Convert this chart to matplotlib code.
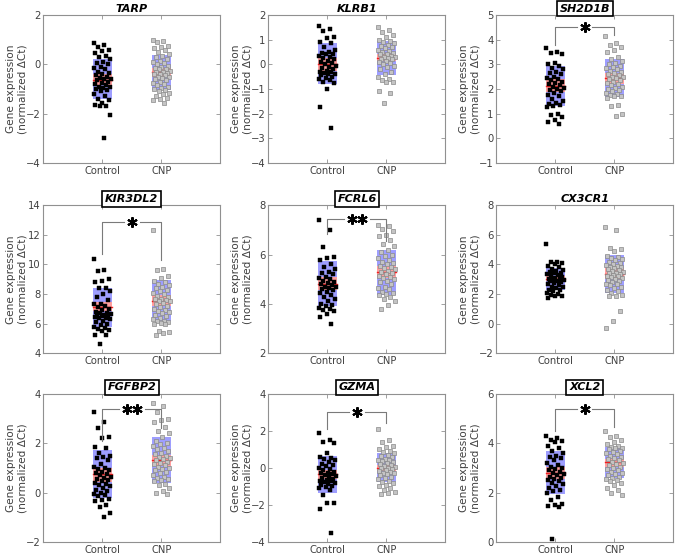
import numpy as np
import matplotlib.pyplot as plt
from matplotlib.patches import Rectangle

genes = ['TARP', 'KLRB1', 'SH2D1B', 'KIR3DL2', 'FCRL6', 'CX3CR1', 'FGFBP2', 'GZMA', 'XCL2']
groups = ['Control', 'CNP']

# individual samples (normalized dCt)
tarp_ctrl = [0.85, 0.8, 0.7, 0.6, 0.55, 0.45, 0.35, 0.3, 0.2, 0.1, 0.05, 0.0, -0.1, -0.15, -0.2, -0.3, -0.35,
             -0.4, -0.45, -0.5, -0.55, -0.6, -0.6, -0.65, -0.7, -0.75, -0.8, -0.85, -0.9, -0.9, -0.95, -1.0,
             -1.05, -1.1, -1.2, -1.3, -1.4, -1.45, -1.55, -1.65, -1.7, -1.7, -2.05, -3.0]
tarp_cnp = [1.0, 0.95, 0.9, 0.75, 0.7, 0.65, 0.6, 0.5, 0.4, 0.35, 0.3, 0.2, 0.15, 0.1, 0.05, 0.0, -0.05, -0.1,
            -0.15, -0.2, -0.2, -0.25, -0.3, -0.3, -0.35, -0.4, -0.4, -0.45, -0.5, -0.5, -0.55, -0.6, -0.65,
            -0.7, -0.75, -0.8, -0.85, -0.9, -0.95, -1.0, -1.05, -1.1, -1.15, -1.2, -1.3, -1.35, -1.4, -1.45, -1.55]
klrb1_ctrl = [1.55, 1.45, 1.35, 1.1, 1.05, 0.9, 0.85, 0.7, 0.6, 0.5, 0.45, 0.4, 0.4, 0.35, 0.3, 0.25, 0.2, 0.15,
              0.1, 0.05, 0.0, -0.05, -0.1, -0.15, -0.2, -0.25, -0.3, -0.3, -0.35, -0.4, -0.4, -0.45, -0.5,
              -0.55, -0.6, -0.65, -0.7, -0.75, -1.0, -1.75, -2.6]
klrb1_cnp = [1.5, 1.4, 1.3, 1.2, 1.1, 1.0, 0.95, 0.9, 0.85, 0.8, 0.75, 0.7, 0.65, 0.6, 0.55, 0.5, 0.45, 0.4, 0.4,
             0.35, 0.3, 0.3, 0.25, 0.2, 0.2, 0.15, 0.1, 0.05, 0.0, -0.05, -0.1, -0.2, -0.3, -0.4, -0.5, -0.6,
             -0.65, -0.7, -0.7, -1.1, -1.15, -1.55]
sh2d1b_ctrl = [3.65, 3.5, 3.45, 3.4, 3.05, 3.0, 2.95, 2.85, 2.8, 2.7, 2.65, 2.6, 2.5, 2.45, 2.4, 2.35, 2.3, 2.25,
               2.2, 2.15, 2.1, 2.05, 2.0, 1.95, 1.9, 1.85, 1.75, 1.7, 1.6, 1.5, 1.45, 1.4, 1.35, 1.3, 1.25, 1.0,
               0.95, 0.85, 0.75, 0.65, 0.6]
sh2d1b_cnp = [4.15, 3.85, 3.8, 3.7, 3.6, 3.5, 3.3, 3.2, 3.15, 3.05, 3.0, 2.95, 2.9, 2.85, 2.8, 2.75, 2.7, 2.65,
              2.6, 2.55, 2.5, 2.5, 2.45, 2.4, 2.35, 2.3, 2.25, 2.2, 2.15, 2.1, 2.05, 2.0, 1.95, 1.9, 1.85, 1.8,
              1.75, 1.7, 1.7, 1.65, 1.35, 1.3, 1.0, 0.9]
kir3dl2_ctrl = [10.35, 9.6, 9.55, 9.0, 8.9, 8.8, 8.4, 8.4, 8.2, 8.0, 7.8, 7.6, 7.35, 7.3, 7.2, 7.1, 7.0, 6.9, 6.8,
                6.75, 6.7, 6.65, 6.6, 6.6, 6.55, 6.5, 6.45, 6.4, 6.35, 6.3, 6.2, 6.1, 6.0, 5.9, 5.8, 5.7, 5.65,
                5.6, 5.5, 5.25, 5.25, 4.6]
kir3dl2_cnp = [12.3, 9.7, 9.65, 9.2, 9.1, 8.85, 8.8, 8.7, 8.6, 8.5, 8.4, 8.3, 8.2, 8.1, 8.0, 7.9, 7.8, 7.7, 7.65,
               7.6, 7.5, 7.5, 7.4, 7.3, 7.2, 7.1, 7.0, 6.9, 6.85, 6.8, 6.7, 6.6, 6.5, 6.4, 6.3, 6.2, 6.15, 6.1,
               6.05, 6.0, 5.95, 5.5, 5.45, 5.35, 5.2]
fcrl6_ctrl = [7.4, 7.0, 6.3, 5.9, 5.85, 5.8, 5.6, 5.5, 5.4, 5.3, 5.25, 5.2, 5.1, 5.05, 5.0, 4.95, 4.9, 4.85, 4.8,
              4.75, 4.7, 4.7, 4.65, 4.6, 4.55, 4.5, 4.45, 4.35, 4.3, 4.2, 4.1, 4.0, 3.95, 3.9, 3.85, 3.8, 3.75,
              3.7, 3.6, 3.45, 3.2]
fcrl6_cnp = [7.2, 7.15, 7.05, 6.95, 6.8, 6.75, 6.6, 6.45, 6.35, 6.2, 6.1, 6.0, 5.95, 5.85, 5.8, 5.7, 5.65, 5.6,
             5.55, 5.5, 5.45, 5.4, 5.35, 5.3, 5.25, 5.2, 5.15, 5.1, 5.05, 5.0, 4.95, 4.9, 4.8, 4.7, 4.65, 4.6,
             4.5, 4.45, 4.4, 4.35, 4.3, 4.2, 4.1, 3.95, 3.8]
cx3cr1_ctrl = [5.4, 4.2, 4.15, 4.1, 4.0, 3.9, 3.8, 3.7, 3.6, 3.55, 3.5, 3.45, 3.4, 3.35, 3.3, 3.2, 3.15, 3.1, 3.05,
               3.0, 3.0, 2.95, 2.9, 2.85, 2.8, 2.75, 2.7, 2.6, 2.5, 2.45, 2.4, 2.3, 2.25, 2.2, 2.1, 2.0, 1.95,
               1.9, 1.85, 1.75]
cx3cr1_cnp = [6.55, 6.3, 5.1, 5.05, 4.9, 4.6, 4.5, 4.45, 4.4, 4.3, 4.2, 4.1, 4.0, 3.95, 3.9, 3.85, 3.8, 3.75, 3.7,
              3.6, 3.55, 3.5, 3.45, 3.4, 3.35, 3.3, 3.25, 3.2, 3.15, 3.1, 3.0, 2.95, 2.9, 2.8, 2.7, 2.65, 2.6,
              2.5, 2.4, 2.3, 2.2, 2.1, 1.95, 1.9, 1.9, 0.85, 0.2, -0.3]
fgfbp2_ctrl = [3.25, 2.85, 2.6, 2.25, 2.2, 1.85, 1.8, 1.6, 1.5, 1.45, 1.4, 1.3, 1.15, 1.05, 1.0, 0.95, 0.9, 0.85,
               0.8, 0.75, 0.7, 0.65, 0.6, 0.55, 0.5, 0.45, 0.4, 0.35, 0.3, 0.25, 0.2, 0.1, 0.05, 0.0, -0.05,
               -0.1, -0.15, -0.25, -0.3, -0.35, -0.5, -0.6, -0.85, -1.0]
fgfbp2_cnp = [3.65, 3.5, 3.25, 3.0, 2.95, 2.85, 2.65, 2.5, 2.4, 2.25, 2.1, 2.0, 1.95, 1.9, 1.8, 1.75, 1.7, 1.6,
              1.55, 1.5, 1.45, 1.4, 1.35, 1.3, 1.25, 1.2, 1.15, 1.1, 1.05, 1.0, 0.95, 0.9, 0.85, 0.8, 0.7, 0.65,
              0.6, 0.55, 0.5, 0.45, 0.35, 0.3, 0.2, 0.05, 0.0, -0.05]
gzma_ctrl = [1.9, 1.5, 1.4, 1.35, 0.8, 0.6, 0.55, 0.5, 0.4, 0.3, 0.2, 0.15, 0.1, 0.0, -0.05, -0.1, -0.2, -0.25,
             -0.3, -0.35, -0.4, -0.45, -0.5, -0.55, -0.6, -0.65, -0.7, -0.7, -0.75, -0.8, -0.85, -0.9, -1.0,
             -1.05, -1.1, -1.2, -1.45, -1.9, -1.9, -2.25, -3.5]
gzma_cnp = [2.1, 1.5, 1.4, 1.2, 1.15, 1.0, 0.9, 0.85, 0.8, 0.7, 0.65, 0.6, 0.5, 0.45, 0.4, 0.35, 0.3, 0.25, 0.2,
            0.15, 0.1, 0.05, 0.0, 0.0, -0.05, -0.1, -0.15, -0.2, -0.25, -0.3, -0.35, -0.4, -0.5, -0.55, -0.6,
            -0.7, -0.75, -0.8, -0.9, -1.0, -1.1, -1.2, -1.3, -1.35, -1.4]
xcl2_ctrl = [4.3, 4.2, 4.15, 4.1, 4.05, 3.9, 3.8, 3.7, 3.6, 3.5, 3.45, 3.4, 3.3, 3.2, 3.1, 3.05, 3.0, 2.95, 2.9,
             2.85, 2.8, 2.75, 2.7, 2.65, 2.6, 2.55, 2.5, 2.45, 2.4, 2.35, 2.25, 2.2, 2.1, 2.05, 2.0, 1.8, 1.7,
             1.55, 1.5, 1.45, 1.4, 0.1]
xcl2_cnp = [4.5, 4.3, 4.25, 4.15, 4.05, 3.95, 3.9, 3.85, 3.8, 3.8, 3.75, 3.7, 3.65, 3.6, 3.55, 3.5, 3.45, 3.4,
            3.35, 3.3, 3.25, 3.2, 3.15, 3.1, 3.05, 3.0, 2.95, 2.9, 2.85, 2.8, 2.75, 2.7, 2.65, 2.6, 2.55, 2.5,
            2.45, 2.4, 2.3, 2.2, 2.1, 2.0, 1.9]

ctrl_data = [tarp_ctrl, klrb1_ctrl, sh2d1b_ctrl, kir3dl2_ctrl, fcrl6_ctrl, cx3cr1_ctrl, fgfbp2_ctrl, gzma_ctrl, xcl2_ctrl]
cnp_data = [tarp_cnp, klrb1_cnp, sh2d1b_cnp, kir3dl2_cnp, fcrl6_cnp, cx3cr1_cnp, fgfbp2_cnp, gzma_cnp, xcl2_cnp]

# box summaries: mean, SEM band (red), SD band (blue)
ctrl_mean = [-0.62, 0.02, 2.12, 7.1, 4.79, 3.03, 0.74, -0.35, 2.81]
ctrl_sem = [(-0.85, -0.4), (-0.27, 0.27), (1.89, 2.39), (6.84, 7.47), (4.55, 5.1), (2.85, 3.21), (0.43, 1.0),
            (-0.58, -0.13), (2.54, 3.05)]
ctrl_sd = [(-1.42, 0.2), (-0.8, 0.86), (1.32, 2.95), (5.8, 8.41), (3.9, 5.75), (2.26, 3.78), (-0.24, 1.72),
           (-1.35, 0.64), (1.96, 3.69)]
cnp_mean = [-0.32, 0.27, 2.45, 7.53, 5.31, 3.39, 1.32, 0.0, 3.22]
cnp_sem = [(-0.5, -0.15), (0.12, 0.42), (2.2, 2.63), (7.2, 7.92), (5.07, 5.55), (3.03, 3.76), (1.07, 1.54),
           (-0.16, 0.18), (3.05, 3.38)]
cnp_sd = [(-1.05, 0.38), (-0.45, 0.95), (1.68, 3.2), (6.16, 8.95), (4.37, 6.2), (2.06, 4.66), (0.38, 2.24),
          (-0.75, 0.8), (2.57, 3.85)]

ylims = [(-4, 2), (-4, 2), (-1, 5), (4, 14), (2, 8), (-2, 8), (-2, 4), (-4, 4), (0, 6)]
ysteps = [2, 1, 1, 2, 2, 2, 2, 2, 2]

# significance: (stars, left start, bar level, right end)
sig = [None, None, ('*', 3.8, 4.5, 4.2), ('*', 10.7, 12.9, 10.3), ('**', 6.85, 7.45, 6.55), None,
       ('**', 2.1, 3.4, 2.6), ('*', 2.1, 3.0, 2.45), ('*', 4.5, 5.38, 4.65)]

lefts = [0.064, 0.396, 0.732]
bottoms = [0.708, 0.367, 0.029]

plt.rcParams['font.family'] = 'DejaVu Sans'
fig = plt.figure(figsize=(6.78, 5.58), dpi=100)

txt = '#404040'
edge = '#909090'


def jitter(n):
    return ((np.arange(n) * 0.6180339) % 1.0 - 0.5) * 0.3


for k, gene in enumerate(genes):
    r, c = divmod(k, 3)
    ax = fig.add_axes([lefts[c], bottoms[r], 0.261, 0.265])
    hw = 0.16
    for xpos, mean, sem, sd in [(1, ctrl_mean[k], ctrl_sem[k], ctrl_sd[k]), (2, cnp_mean[k], cnp_sem[k], cnp_sd[k])]:
        ax.add_patch(Rectangle((xpos - hw, sd[0]), 2 * hw, sd[1] - sd[0], facecolor='#9e9eff', edgecolor='none', zorder=1))
        ax.add_patch(Rectangle((xpos - hw, sem[0]), 2 * hw, sem[1] - sem[0], facecolor='#ff9e9e', edgecolor='none', zorder=2))
        ax.plot([xpos - hw, xpos + hw], [mean, mean], color='#ee2020', lw=1.0, zorder=3)
    yc = np.array(ctrl_data[k])
    yn = np.array(cnp_data[k])
    ax.plot(1 + jitter(len(yc)), yc, 's', ms=2.3, mfc='black', mec='black', mew=0.3, zorder=4)
    ax.plot(2 + jitter(len(yn)), yn, 's', ms=2.8, mfc='#c4c4c4', mec='#8a8a8a', mew=0.5, zorder=4)

    if sig[k] is not None:
        stars, y0, yb, y1 = sig[k]
        gap = 0.13 if stars == '*' else 0.22
        lc = '#7a7a7a'
        ax.plot([1, 1, 1.5 - gap], [y0, yb, yb], color=lc, lw=0.8, zorder=5)
        ax.plot([1.5 + gap, 2, 2], [yb, yb, y1], color=lc, lw=0.8, zorder=5)
        if stars == '*':
            xs = [1.5]
        else:
            xs = [1.42, 1.58]
        ax.plot(xs, [yb] * len(xs), marker=(6, 2, 0), ms=7.5, mew=1.5, color='black', ls='none', zorder=6)

    ax.set_xlim(0, 3)
    ax.set_ylim(*ylims[k])
    ax.set_yticks(np.arange(ylims[k][0], ylims[k][1] + 0.01, ysteps[k]))
    ax.set_xticks([1, 2])
    ax.set_xticklabels(groups)
    ax.tick_params(direction='in', length=3, width=0.6, color=edge, labelcolor=txt, labelsize=7.2,
                   top=True, right=True, pad=2)
    for s in ax.spines.values():
        s.set_color(edge)
        s.set_linewidth(0.8)
    ax.set_ylabel('Gene expression\n(normalized \u0394Ct)', fontsize=7.6, color=txt, linespacing=1.15)
    ax.yaxis.set_label_coords(-0.092, 0.5)

    if sig[k] is not None:
        ax.set_title(gene, fontsize=8, fontweight='bold', fontstyle='italic', pad=2.5,
                     bbox=dict(boxstyle='square,pad=0.25', facecolor='white', edgecolor='black', linewidth=1.2))
    else:
        ax.set_title(gene, fontsize=8, fontweight='bold', fontstyle='italic', pad=2.5)

fig.savefig('out.png', dpi=100, facecolor='white')
